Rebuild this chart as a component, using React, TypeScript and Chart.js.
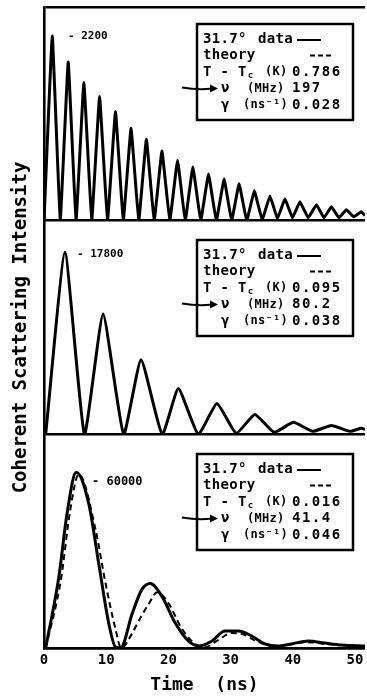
import { useEffect, useRef } from "react";
import { Chart, registerables } from "chart.js";

Chart.register(...registerables);

// ---------- data ----------
const timeTicks = [0, 10, 20, 30, 40, 50];

// Panel 1 (T - Tc = 0.786 K)
const p1Time = [
  0, 1.33, 2.61, 3.89, 5.15, 6.41, 7.67, 8.93, 10.21, 11.49, 12.74, 13.99, 15.23, 16.46, 17.71,
  18.96, 20.22, 21.47, 22.7, 23.93, 25.19, 26.44, 27.7, 28.96, 30.16, 31.36, 32.59, 33.81, 35.07,
  36.33, 37.53, 38.73, 39.94, 41.14, 42.47, 43.8, 45.0, 46.2, 47.4, 48.6, 49.8, 51.0, 51.6,
];
const p1Counts = [
  0, 2200, 0, 1890, 0, 1645, 0, 1480, 0, 1300, 0, 1100, 0, 970, 0,
  830, 0, 720, 0, 640, 0, 555, 0, 495, 0, 440, 0, 355, 12,
  295, 24, 260, 35, 225, 35, 190, 35, 165, 35, 130, 47, 105, 60,
];

// Panel 2 (T - Tc = 0.095 K)
const p2Time = [0.27, 3.37, 6.5, 9.5, 12.8, 15.6, 19.0, 21.6, 24.8, 27.8, 30.9, 33.9, 37.0, 40.1, 43.2, 46.2, 49.2, 51.0, 51.6];
const p2Counts = [0, 17800, 0, 11770, 0, 7300, 0, 4475, 0, 3015, 100, 1945, 200, 1170, 290, 875, 290, 585, 490];

// Panel 3 (T - Tc = 0.016 K) data
const p3Time = [
  0.27, 2.4, 3.7, 5.18, 7.2, 8.8, 10.4, 11.5, 12.3, 14.2, 15.75, 17.1, 18.96, 21.1, 23.2, 24.85,
  27.0, 29.1, 31.25, 33.4, 35.5, 37.6, 39.8, 42.5, 45.1, 47.8, 51.6,
];
const p3Counts = [
  0, 24400, 45800, 60000, 49200, 28800, 8500, 340, 0, 11900, 20000, 22000, 17600, 8500, 2400, 680,
  2400, 5800, 5800, 4100, 1400, 680, 1400, 2400, 1700, 1000, 680,
];
// Panel 3 theory
const p3TheoryTime = [
  0.27, 2.7, 4.2, 5.6, 8.3, 9.9, 11.5, 12.4, 14.2, 15.2, 16.8, 18.2, 20.0, 22.1, 24.3, 25.9,
  28.0, 30.1, 32.0, 33.8, 35.8, 37.6, 40.0, 42.5, 45.0, 48.0, 51.6,
];
const p3TheoryCounts = [
  0, 23000, 46800, 59300, 40300, 22000, 6400, 0, 5100, 9150, 14900, 19000, 15300, 6800, 1400, 340,
  2700, 5100, 4700, 2700, 1000, 680, 1400, 2000, 1400, 1000, 680,
];

const panelMax = [2545, 20900, 72900];
const peakLabels = ["- 2200", "- 17800", "- 60000"];
const angleLabels = ["31.7°", "31.7°", "31.7°"];
const deltaTValues = ["0.786", "0.095", "0.016"];
const nuValues = ["197", "80.2", "41.4"];
const gammaValues = ["0.028", "0.038", "0.046"];

const MONO = '"DejaVu Sans Mono", monospace';

const toPoints = (xs: number[], ys: number[]) => xs.map((x, i) => ({ x, y: ys[i] }));

const annotationPlugin = {
  id: "annotations",
  afterDraw(chart: any) {
    const ctx = chart.ctx as CanvasRenderingContext2D;
    ctx.save();
    ctx.fillStyle = "#000";
    ctx.strokeStyle = "#000";
    ctx.textBaseline = "middle";
    ctx.textAlign = "left";

    const labelPos = [
      [68, 36, 11],
      [77, 254, 11],
      [92, 482, 12],
    ];
    const boxTops = [24, 240, 454];
    const L = 197;
    const W = 156;
    const H = 96;

    for (let i = 0; i < 3; i++) {
      // peak value label
      ctx.font = `bold ${labelPos[i][2]}px ${MONO}`;
      (ctx as any).letterSpacing = "0px";
      ctx.fillText(peakLabels[i], labelPos[i][0], labelPos[i][1]);

      const T = boxTops[i];
      ctx.lineWidth = 2.5;
      ctx.setLineDash([]);
      ctx.strokeRect(L, T, W, H);
      const row = (k: number) => T + 15 + 16.5 * k;

      const word = `bold 14px ${MONO}`;
      const unit = `bold 12px ${MONO}`;
      // row 0
      ctx.font = word;
      (ctx as any).letterSpacing = "0.3px";
      ctx.fillText(angleLabels[i], L + 6, row(0));
      ctx.fillText("data", L + 61, row(0));
      ctx.lineWidth = 2;
      ctx.beginPath();
      ctx.moveTo(L + 100, row(0) + 1);
      ctx.lineTo(L + 124, row(0) + 1);
      ctx.stroke();
      // row 1
      ctx.fillText("theory", L + 6, row(1));
      ctx.setLineDash([5, 3]);
      ctx.beginPath();
      ctx.moveTo(L + 113, row(1));
      ctx.lineTo(L + 137, row(1));
      ctx.stroke();
      ctx.setLineDash([]);
      // row 2
      ctx.fillText("T - T", L + 6, row(2));
      const tw = ctx.measureText("T - T").width;
      ctx.font = `bold 9px ${MONO}`;
      ctx.fillText("c", L + 7 + tw, row(2) + 4);
      ctx.font = unit;
      ctx.fillText("(K)", L + 68, row(2));
      ctx.font = word;
      (ctx as any).letterSpacing = "1.5px";
      ctx.fillText(deltaTValues[i], L + 95, row(2));
      // row 3
      (ctx as any).letterSpacing = "0.3px";
      ctx.fillText("ν", L + 24, row(3));
      ctx.font = unit;
      ctx.fillText("(MHz)", L + 50, row(3));
      ctx.font = word;
      (ctx as any).letterSpacing = "1.5px";
      ctx.fillText(nuValues[i], L + 95, row(3));
      // row 4
      (ctx as any).letterSpacing = "0.3px";
      ctx.fillText("γ", L + 24, row(4));
      ctx.font = unit;
      ctx.fillText("(ns⁻¹)", L + 46, row(4));
      ctx.font = word;
      (ctx as any).letterSpacing = "1.5px";
      ctx.fillText(gammaValues[i], L + 95, row(4));

      // arrow pointing at nu
      const ay = row(3);
      ctx.lineWidth = 2;
      ctx.beginPath();
      ctx.moveTo(L - 15, ay - 1);
      ctx.quadraticCurveTo(L + 2, ay + 2, L + 15, ay);
      ctx.stroke();
      ctx.beginPath();
      ctx.moveTo(L + 21, ay);
      ctx.lineTo(L + 13, ay - 4);
      ctx.lineTo(L + 13, ay + 4);
      ctx.closePath();
      ctx.fill();
    }
    ctx.restore();
  },
};

function yScale(index: number, weight: number, withTitle: boolean) {
  return {
    type: "linear",
    position: "left",
    stack: "panels",
    stackWeight: 1,
    weight,
    min: 0,
    max: panelMax[index],
    afterBuildTicks: (s: any) => {
      s.ticks = index === 0 ? [{ value: 0 }, { value: panelMax[index] }] : [{ value: 0 }];
    },
    ticks: { display: false },
    grid: {
      display: true,
      drawTicks: false,
      lineWidth: 2.5,
      color: "#000",
    },
    border: { display: true, color: "#000", width: 2.6 },
    title: withTitle
      ? {
          display: true,
          text: "Coherent Scattering Intensity",
          color: "#000",
          font: { family: MONO, size: 19, weight: "bold" },
          padding: { top: 9.6, bottom: 11.6 },
        }
      : { display: false },
  };
}

export default function App() {
  const canvasRef = useRef<HTMLCanvasElement | null>(null);

  useEffect(() => {
    if (!canvasRef.current) return;
    const lineBase = {
      type: "line",
      borderColor: "#000",
      pointRadius: 0,
      fill: false,
    };
    const chart = new Chart(canvasRef.current, {
      type: "line",
      data: {
        datasets: [
          { ...lineBase, label: "data 0.786 K", data: toPoints(p1Time, p1Counts), yAxisID: "y1", borderWidth: 3, tension: 0.08 },
          { ...lineBase, label: "data 0.095 K", data: toPoints(p2Time, p2Counts), yAxisID: "y2", borderWidth: 3, tension: 0.15 },
          { ...lineBase, label: "theory 0.016 K", data: toPoints(p3TheoryTime, p3TheoryCounts), yAxisID: "y3", borderWidth: 2, borderDash: [6, 4], cubicInterpolationMode: "monotone" },
          { ...lineBase, label: "data 0.016 K", data: toPoints(p3Time, p3Counts), yAxisID: "y3", borderWidth: 3, cubicInterpolationMode: "monotone" },
        ] as any,
      },
      options: {
        responsive: false,
        animation: false,
        maintainAspectRatio: false,
        layout: { padding: { left: 0, right: 0, top: 7, bottom: 0 } },
        plugins: {
          legend: { display: false },
          tooltip: { enabled: false },
        },
        scales: {
          x: {
            type: "linear",
            position: "bottom",
            min: 0,
            max: 51.6,
            afterBuildTicks: (s: any) => {
              s.ticks = timeTicks.map((v) => ({ value: v }));
            },
            ticks: {
              color: "#000",
              padding: 4,
              maxRotation: 0,
              font: { family: MONO, size: 14, weight: "bold" },
            },
            grid: { display: false, drawTicks: false },
            border: { display: true, color: "#000", width: 2.5 },
            title: {
              display: true,
              text: "Time  (ns)",
              color: "#000",
              font: { family: MONO, size: 18, weight: "bold" },
              padding: { top: 1.4, bottom: 1.2 },
            },
          },
          y1: yScale(0, 3, false),
          y2: yScale(1, 2, true),
          y3: yScale(2, 1, false),
        } as any,
      },
      plugins: [annotationPlugin],
    } as any);
    return () => chart.destroy();
  }, []);

  return (
    <div style={{ position: "absolute", left: 0, top: 0, width: 367, height: 697, background: "#fff" }}>
      <canvas ref={canvasRef} width={367} height={697} style={{ display: "block" }} />
    </div>
  );
}
